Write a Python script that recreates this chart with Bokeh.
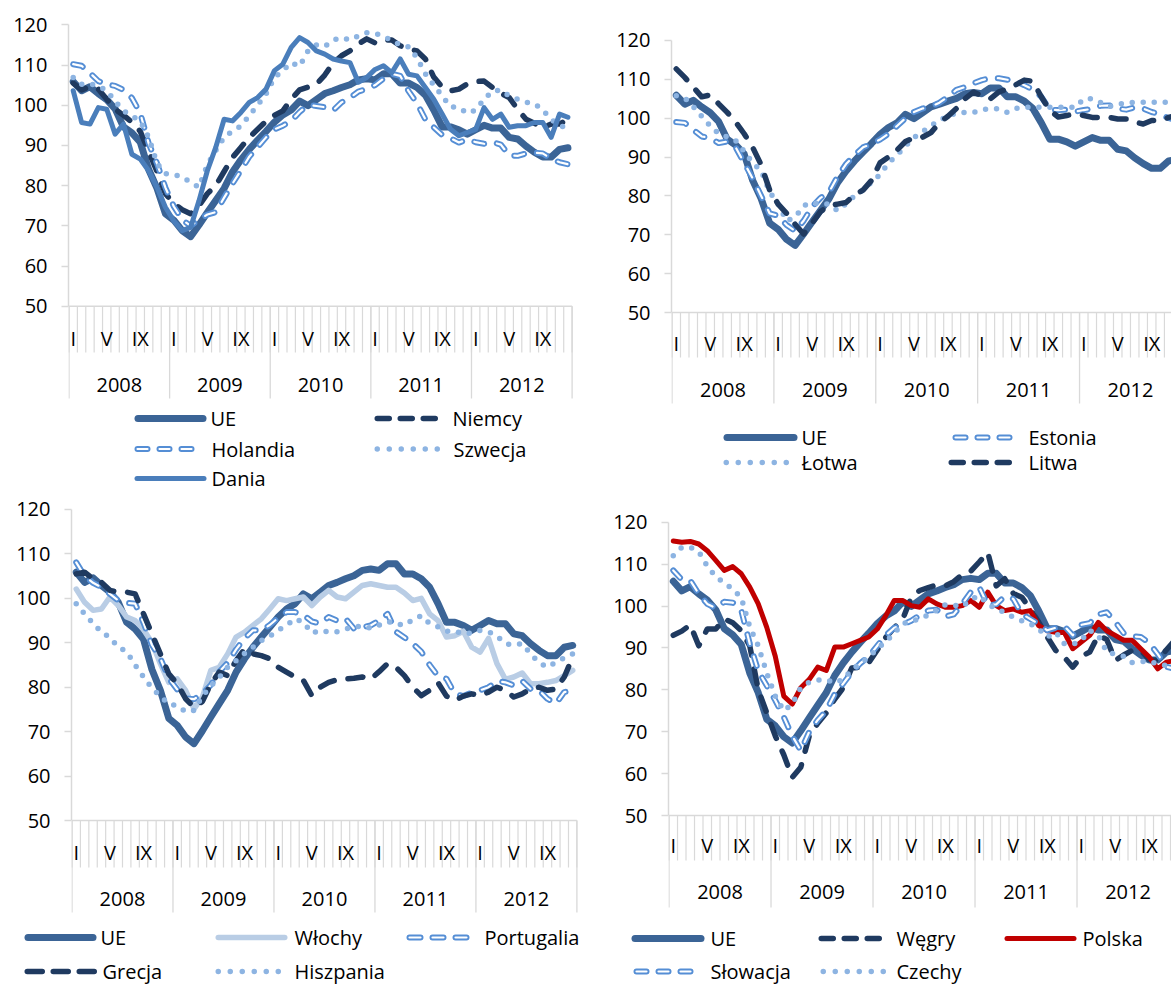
from bokeh.plotting import figure
from bokeh.layouts import column, row
from bokeh.models import Range1d, FixedTicker
from bokeh.core.properties import value
from bokeh.embed import file_html
from bokeh.resources import INLINE

# ---------------- data ----------------
years = ["2008", "2009", "2010", "2011", "2012"]
month_names = ["I", "V", "IX"]
month_name_pos = [0, 4, 8]
y_ticks = [50, 60, 70, 80, 90, 100, 110, 120]

ue = [105.9, 103.6, 104.6, 102.9, 101.4, 99.1, 94.6, 93.1, 90.8, 84.0,
      79.3, 73.0, 71.4, 68.8, 67.3, 70.2, 73.3, 76.3, 79.3, 83.4,
      86.4, 89.0, 91.3, 93.5, 95.8, 97.6, 98.8, 101.0, 99.9, 101.4,
      102.9, 103.6, 104.4, 105.1, 106.3, 106.6, 106.3, 107.8, 107.8, 105.5,
      105.5, 104.4, 102.5, 98.8, 94.6, 94.6, 93.9, 92.8, 93.9, 95.0,
      94.3, 94.3, 92.0, 91.6, 89.8, 88.3, 87.1, 87.1, 89.0, 89.4]

niemcy = [105.5, 103.8, 104.6, 104.0, 101.5, 99.0, 97.5, 95.8, 93.5, 88.5,
          83.5, 78.0, 75.5, 74.0, 73.0, 75.0, 78.0, 80.0, 83.5, 87.0,
          89.5, 92.0, 94.0, 96.0, 97.5, 98.6, 101.5, 103.8, 104.5, 105.2,
          107.5, 110.5, 112.3, 113.5, 115.2, 116.5, 115.5, 116.3, 116.2, 114.8,
          114.0, 113.5, 111.5, 107.0, 104.5, 103.6, 104.0, 105.3, 105.9, 106.0,
          104.4, 103.0, 101.9, 99.0, 96.5, 95.5, 94.5, 95.3, 95.3, 96.5]

holandia = [110.2, 109.8, 108.0, 106.0, 105.2, 104.8, 103.8, 101.8, 98.0, 90.5,
            85.5, 79.5, 74.8, 71.5, 70.0, 71.5, 72.8, 73.4, 77.0, 80.5,
            83.8, 87.2, 89.6, 92.0, 94.0, 94.9, 96.1, 98.3, 100.1, 99.8,
            99.5, 98.7, 100.7, 101.8, 103.4, 104.0, 105.0, 106.6, 107.8, 107.3,
            103.5, 100.5, 96.5, 94.5, 92.6, 91.8, 90.7, 91.5, 90.8, 90.4,
            90.8, 90.2, 87.5, 87.4, 88.0, 88.2, 88.0, 86.7, 85.8, 85.3]

szwecja = [106.9, 105.2, 105.3, 104.8, 103.6, 101.0, 98.6, 97.4, 96.0, 92.0,
           85.5, 83.0, 82.7, 82.2, 80.8, 79.6, 85.2, 88.7, 92.0, 93.6,
           94.8, 97.4, 100.0, 102.8, 106.9, 108.6, 110.6, 109.7, 113.5, 115.0,
           114.6, 116.2, 116.8, 116.2, 117.2, 118.0, 117.9, 117.2, 116.0, 115.0,
           114.5, 111.8, 107.8, 105.0, 102.3, 99.6, 99.4, 98.0, 98.8, 101.5,
           103.5, 103.8, 102.3, 101.5, 100.7, 100.4, 98.8, 96.5, 94.8, 94.5]

dania = [103.6, 95.7, 95.3, 99.4, 99.0, 92.8, 95.3, 87.8, 86.6, 83.7,
         79.5, 74.6, 71.2, 68.8, 69.6, 76.2, 83.7, 89.5, 96.5, 96.1,
         98.2, 100.7, 101.9, 104.0, 108.6, 110.2, 114.4, 116.8, 115.6, 113.5,
         112.7, 111.5, 111.0, 110.6, 105.7, 106.9, 108.9, 109.8, 108.1, 111.5,
         107.7, 107.3, 104.4, 101.5, 97.8, 94.0, 92.4, 93.2, 94.0, 99.4,
         96.5, 97.8, 94.5, 94.9, 94.9, 95.7, 95.7, 92.0, 97.8, 97.0]

estonia = [99.0, 98.8, 97.0, 95.3, 94.9, 93.6, 94.0, 92.5, 88.5, 84.5,
           80.0, 75.5, 74.9, 72.5, 71.0, 73.6, 77.2, 79.5, 81.0, 85.0,
           88.2, 90.5, 92.5, 93.4, 94.5, 96.0, 98.0, 100.0, 101.6, 102.5,
           103.0, 104.0, 105.5, 107.3, 108.0, 109.0, 109.8, 110.3, 110.3, 109.9,
           109.5, 108.5, 107.4, 105.5, 102.2, 102.1, 102.2, 101.7, 102.1, 102.4,
           103.2, 103.3, 102.5, 102.2, 102.8, 102.5, 101.6, 101.0, 100.0, 99.5]

lotwa = [105.8, 105.2, 103.0, 100.5, 98.0, 96.0, 95.2, 94.2, 91.5, 88.5,
         86.5, 81.0, 77.9, 73.6, 74.5, 77.5, 78.3, 77.9, 77.9, 76.2,
         78.0, 80.0, 81.5, 83.5, 85.5, 88.5, 90.5, 92.8, 95.0, 96.5,
         98.0, 99.5, 100.5, 101.3, 101.5, 101.5, 102.2, 102.4, 102.4, 101.5,
         102.5, 102.8, 102.8, 102.8, 102.8, 102.8, 102.8, 102.8, 105.0, 105.0,
         104.0, 103.0, 103.5, 104.0, 104.1, 104.1, 104.1, 104.1, 104.1, 104.1]

litwa = [112.7, 110.5, 108.0, 105.5, 106.0, 103.7, 101.5, 99.0, 96.0, 92.5,
         88.0, 81.5, 77.9, 75.5, 72.7, 70.2, 73.0, 76.0, 77.5, 77.9,
         78.3, 80.3, 81.5, 84.0, 88.5, 90.0, 91.8, 94.0, 95.0, 95.1,
         96.3, 98.8, 100.5, 102.5, 105.0, 106.7, 105.8, 105.0, 106.8, 107.5,
         108.6, 109.8, 109.5, 105.5, 102.0, 100.3, 100.7, 101.1, 100.7, 100.2,
         100.2, 100.2, 99.8, 99.8, 99.0, 98.5, 99.4, 99.4, 100.2, 100.8]

wlochy = [102.1, 99.1, 97.3, 97.6, 100.3, 98.4, 95.8, 95.0, 93.0, 90.0,
          85.3, 81.1, 81.9, 79.3, 75.1, 77.8, 83.8, 84.5, 87.5, 91.3,
          92.4, 93.9, 95.4, 97.6, 99.9, 99.5, 99.9, 100.3, 98.4, 100.3,
          101.8, 100.3, 99.9, 101.4, 102.9, 103.3, 102.9, 102.5, 102.5, 101.2,
          99.5, 100.0, 96.5, 95.0, 91.3, 91.6, 92.6, 89.0, 87.9, 91.0,
          85.3, 81.8, 82.3, 83.2, 80.8, 80.8, 81.1, 81.5, 82.6, 83.8]

portugalia = [108.1, 105.0, 103.5, 102.5, 101.0, 99.5, 99.0, 98.8, 94.5, 89.5,
              86.5, 82.0, 79.5, 77.5, 77.3, 78.5, 80.5, 83.5, 85.5, 88.5,
              91.0, 92.8, 92.8, 94.0, 95.6, 96.9, 96.9, 96.3, 94.8, 94.3,
              95.8, 95.0, 95.5, 93.2, 93.5, 93.9, 95.0, 96.5, 92.5, 91.2,
              89.8, 88.0, 85.0, 82.5, 81.9, 78.5, 78.0, 78.8, 79.3, 80.0,
              81.4, 81.1, 80.4, 81.4, 79.6, 79.3, 77.4, 76.3, 78.9, 79.3]

grecja = [105.5, 105.9, 104.4, 103.6, 101.8, 101.4, 101.4, 101.0, 96.5, 92.0,
          87.5, 83.0, 80.8, 77.4, 75.5, 76.8, 80.8, 83.4, 82.6, 86.0,
          88.6, 87.5, 87.1, 86.4, 84.5, 83.4, 82.3, 81.5, 78.1, 80.0,
          81.1, 81.7, 81.9, 82.0, 82.3, 81.8, 83.5, 85.3, 84.5, 82.6,
          80.0, 78.1, 79.3, 81.0, 78.0, 77.0, 78.0, 78.5, 78.1, 78.9,
          80.0, 79.3, 77.8, 78.5, 79.6, 80.0, 79.3, 79.6, 82.3, 86.8]

hiszpania = [98.8, 96.5, 94.4, 92.4, 91.2, 89.0, 88.0, 85.0, 82.3, 79.8,
             78.0, 76.2, 75.9, 74.5, 74.8, 78.0, 80.3, 82.2, 84.5, 86.0,
             87.6, 89.0, 90.5, 91.5, 92.8, 93.9, 95.4, 94.6, 92.2, 92.8,
             92.4, 92.5, 93.1, 93.5, 93.8, 93.3, 94.0, 94.8, 94.3, 93.9,
             95.2, 96.1, 94.3, 93.6, 92.6, 92.6, 92.0, 92.2, 92.8, 92.5,
             91.5, 89.8, 89.5, 89.8, 87.5, 85.5, 84.5, 85.6, 86.6, 87.5]

wegry = [93.0, 94.0, 95.5, 90.5, 94.5, 94.5, 96.9, 96.0, 94.1, 90.5,
         80.0, 74.5, 69.0, 64.5, 59.1, 61.5, 69.0, 72.0, 74.5, 77.8,
         80.5, 85.2, 85.4, 86.5, 89.5, 92.5, 94.8, 96.9, 102.0, 103.7,
         104.4, 105.0, 104.8, 105.8, 107.5, 108.3, 110.5, 112.8, 104.8, 106.5,
         103.0, 102.1, 99.3, 96.1, 92.6, 89.4, 87.8, 85.4, 88.0, 89.0,
         93.0, 92.0, 87.0, 88.3, 89.4, 89.4, 87.2, 87.0, 89.5, 91.8]

polska = [115.5, 115.2, 115.4, 114.8, 113.2, 110.9, 108.5, 109.4, 107.7, 104.5,
          100.5, 94.9, 88.0, 78.5, 76.6, 80.5, 82.5, 85.4, 84.6, 90.2,
          90.2, 91.0, 91.8, 92.6, 94.5, 97.7, 101.3, 101.3, 100.1, 99.7,
          101.7, 100.5, 99.7, 99.7, 100.1, 101.3, 99.7, 103.3, 100.1, 98.9,
          99.3, 98.5, 98.9, 95.3, 94.1, 93.7, 93.7, 89.8, 91.4, 93.0,
          96.1, 94.1, 93.0, 91.8, 91.8, 89.8, 87.8, 85.0, 86.6, 87.0]

slowacja = [108.5, 106.3, 106.1, 102.9, 100.5, 99.5, 101.0, 100.8, 99.0, 91.0,
            84.5, 81.0, 77.5, 73.5, 69.0, 65.5, 70.0, 72.8, 75.0, 79.0,
            81.5, 84.2, 86.3, 88.0, 90.5, 93.0, 94.8, 95.6, 96.5, 97.8,
            98.9, 99.1, 97.5, 98.0, 100.5, 103.3, 104.5, 100.2, 100.4, 102.3,
            101.7, 98.1, 96.9, 95.7, 94.2, 94.8, 95.2, 93.0, 95.5, 95.9,
            98.0, 98.5, 96.2, 93.5, 92.8, 92.6, 91.2, 88.5, 85.5, 85.0]

czechy = [112.0, 114.0, 114.0, 113.0, 109.5, 107.0, 105.5, 104.0, 102.0, 95.0,
          90.5, 84.0, 78.5, 75.0, 76.6, 80.5, 81.8, 82.3, 82.4, 81.6,
          82.5, 84.8, 86.3, 87.8, 89.8, 91.5, 93.5, 95.8, 96.3, 97.0,
          97.8, 99.0, 100.3, 100.2, 99.8, 101.5, 102.5, 100.5, 99.3, 98.5,
          97.3, 96.5, 95.8, 94.5, 92.6, 93.8, 91.0, 90.8, 91.8, 94.2,
          93.0, 89.0, 88.5, 88.0, 86.5, 86.7, 86.8, 86.2, 85.8, 85.8]

names_tl = ["UE", "Niemcy", "Holandia", "Szwecja", "Dania"]
names_tr = ["UE", "Estonia", "Łotwa", "Litwa"]
names_bl = ["UE", "Włochy", "Portugalia", "Grecja", "Hiszpania"]
names_br = ["UE", "Węgry", "Polska", "Słowacja", "Czechy"]

# ---------------- styling ----------------
FONT = "Open Sans"
FONT_SIZE = "20px"
TEXT_COLOR = "#000000"
GRID = "#D9D9D9"
C_UE = "#3B6496"
C_DARK = "#1F3A60"
C_HOLLOW = "#558ED5"
C_DOTS = "#8DB4E2"
C_MID = "#4A7EBB"
C_LIGHT = "#B9CDE5"
C_RED = "#C00000"

WIDTHS = {"ue": 7.0, "dash": 5.5, "hollow": 6.0, "dots": 5.5, "mid": 5.0, "light": 5.5, "red": 5.0}
DASHES = {"dash": "15 14", "hollow": "10 13", "dots": "0 11"}


def draw(p, xs, ys, style, dash=None):
    common = dict(line_join="round", line_cap="round")
    w = WIDTHS[style]
    d = dash if dash is not None else DASHES.get(style, "solid")
    if style == "ue":
        p.line(xs, ys, line_color=C_UE, line_width=w, **common)
    elif style == "dash":
        p.line(xs, ys, line_color=C_DARK, line_width=w, line_dash=d, **common)
    elif style == "hollow":
        p.line(xs, ys, line_color=C_HOLLOW, line_width=w, line_dash=d, **common)
        p.line(xs, ys, line_color="white", line_width=2.2, line_dash=d, **common)
    elif style == "dots":
        p.line(xs, ys, line_color=C_DOTS, line_width=w, line_dash=d, **common)
    elif style == "mid":
        p.line(xs, ys, line_color=C_MID, line_width=w, **common)
    elif style == "light":
        p.line(xs, ys, line_color=C_LIGHT, line_width=w, **common)
    elif style == "red":
        p.line(xs, ys, line_color=C_RED, line_width=w, **common)


def text(p, xs, ys, labels, align="center"):
    p.text(x=xs, y=ys, text=labels, text_font=value(FONT), text_font_size=value(FONT_SIZE),
           text_color=TEXT_COLOR, text_align=align, text_baseline="middle")


def plot_panel(width, height, top, border, month_px, y50, unit_px,
               mlab_py, year_py, mtick_py, yline_py, series):
    def v(py):
        return 50 + (y50 - py) / unit_px

    x0 = -0.06
    x1 = x0 + (width - border) / month_px
    p = figure(width=width, height=height, x_range=Range1d(x0, x1),
               y_range=Range1d(v(top + height), v(top)),
               x_axis_type=None, toolbar_location=None, output_backend="svg",
               min_border_left=border, min_border_right=0, min_border_top=0, min_border_bottom=0)
    p.outline_line_color = None
    p.grid.grid_line_color = None
    p.background_fill_color = "white"
    p.border_fill_color = "white"

    ax = p.yaxis[0]
    ax.ticker = FixedTicker(ticks=y_ticks)
    ax.bounds = (50, 120)
    ax.axis_line_color = GRID
    ax.axis_line_width = 1.5
    ax.major_tick_line_color = GRID
    ax.major_tick_line_width = 1.5
    ax.major_tick_out = 7
    ax.major_tick_in = 0
    ax.minor_tick_line_color = None
    ax.major_label_text_font = FONT
    ax.major_label_text_font_size = FONT_SIZE
    ax.major_label_text_color = TEXT_COLOR
    ax.major_label_standoff = 14

    n_months = 12 * len(years)
    edges = list(range(n_months + 1))
    p.segment(x0=edges, y0=[50] * len(edges), x1=edges, y1=[v(mtick_py)] * len(edges),
              line_color=GRID, line_width=1.2)
    yedges = [12 * i for i in range(len(years) + 1)]
    p.segment(x0=yedges, y0=[50] * len(yedges), x1=yedges, y1=[v(yline_py)] * len(yedges),
              line_color=GRID, line_width=1.3)
    p.segment(x0=[0], y0=[50], x1=[n_months], y1=[50], line_color=GRID, line_width=1.5)

    mx = [12 * i + k + 0.5 for i in range(len(years)) for k in month_name_pos]
    ml = month_names * len(years)
    text(p, mx, [v(mlab_py)] * len(mx), ml)
    text(p, [12 * i + 6 for i in range(len(years))], [v(year_py)] * len(years), years)

    xs = [i + 0.5 for i in range(n_months)]
    for vals, style in series:
        draw(p, xs, vals, style)
    return p


def legend_panel(width, height, top, items):
    p = figure(width=width, height=height, x_range=Range1d(0, width),
               y_range=Range1d(top + height, top), x_axis_type=None, y_axis_type=None,
               toolbar_location=None, output_backend="svg",
               min_border_left=0, min_border_right=0, min_border_top=0, min_border_bottom=0)
    p.outline_line_color = None
    p.background_fill_color = "white"
    p.border_fill_color = "white"
    for style, xa, xb, yy, label, tx in items:
        w = WIDTHS[style]
        L = xb - xa - w
        dash = None
        if style == "dash":
            g = 11
            dl = max(2, round((L - 2 * g) / 3))
            dash = f"{dl} {g}"
            L = 3 * dl + 2 * g
        elif style == "hollow":
            g = 12
            dl = max(2, round((L - 2 * g) / 3))
            dash = f"{dl} {g}"
            L = 3 * dl + 2 * g
        elif style == "dots":
            s = 12
            n = round(L / s)
            dash = f"0 {s}"
            L = n * s + 0.5
        draw(p, [xa + w / 2, xa + w / 2 + L], [yy, yy], style, dash)
        text(p, [tx], [yy], [label], align="left")
    return p


LW, RW = 600, 571
TOP_H, LEG1_H, BOT_H, LEG2_H = 404, 89, 421, 73
BOT_TOP = TOP_H + LEG1_H

tl = plot_panel(LW, TOP_H, 0, 68, 8.385, 305.7, 4.02, 338, 384, 352, 398,
                [(ue, "ue"), (niemcy, "dash"), (holandia, "hollow"), (szwecja, "dots"), (dania, "mid")])
tr = plot_panel(RW, TOP_H, 0, 71, 8.49, 312, 3.886, 343, 389, 357, 403,
                [(ue, "ue"), (estonia, "hollow"), (lotwa, "dots"), (litwa, "dash")])
bl = plot_panel(LW, BOT_H, BOT_TOP, 71, 8.415, 820, 4.443, 852, 898, 867, 912,
                [(ue, "ue"), (wlochy, "light"), (portugalia, "hollow"), (grecja, "dash"), (hiszpania, "dots")])
br = plot_panel(RW, BOT_H, BOT_TOP, 68, 8.5, 815, 4.19, 845, 891.5, 860, 907,
                [(ue, "ue"), (wegry, "dash"), (polska, "red"), (slowacja, "hollow"), (czechy, "dots")])

leg_top = legend_panel(LW + RW, LEG1_H, TOP_H, [
    ("ue", 134, 206, 418, names_tl[0], 210),
    ("dash", 374, 438, 418, names_tl[1], 452),
    ("hollow", 134, 194, 448.5, names_tl[2], 211),
    ("dots", 374, 440, 448.5, names_tl[3], 453),
    ("mid", 134, 206, 478, names_tl[4], 211),
    ("ue", 723, 797, 437, names_tr[0], 801),
    ("hollow", 952, 1012, 437, names_tr[1], 1028),
    ("dots", 723, 790, 462, names_tr[2], 801),
    ("dash", 948, 1012, 462, names_tr[3], 1028),
])
leg_bot = legend_panel(LW + RW, LEG2_H, BOT_TOP + BOT_H, [
    ("ue", 24, 96, 937, names_bl[0], 100),
    ("light", 215, 287, 937, names_bl[1], 294),
    ("hollow", 406, 468, 937, names_bl[2], 484),
    ("dash", 24, 96, 971, names_bl[3], 102),
    ("dots", 215, 281, 971, names_bl[4], 294),
    ("ue", 631, 704, 938, names_br[0], 710),
    ("dash", 818, 880, 938, names_br[1], 896),
    ("red", 1004, 1076, 938, names_br[2], 1082),
    ("hollow", 633, 693, 971, names_br[3], 710),
    ("dots", 820, 884, 971, names_br[4], 896),
])

layout = column(row(tl, tr), leg_top, row(bl, br), leg_bot)
open("out.html", "w").write(file_html(layout, INLINE))
